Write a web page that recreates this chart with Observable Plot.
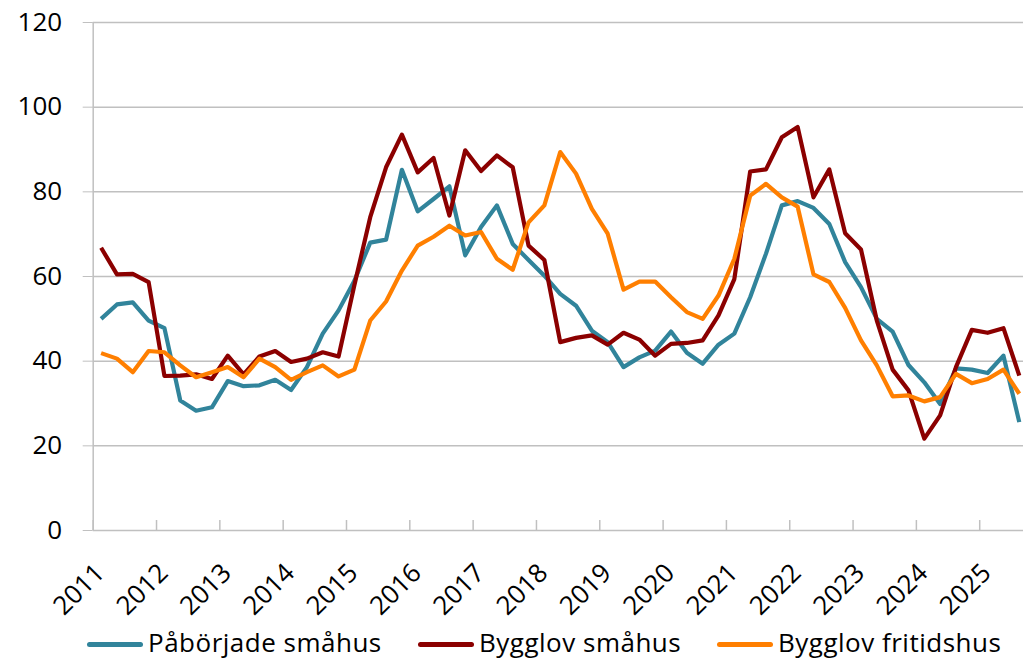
<!DOCTYPE html>
<html><head><meta charset="utf-8">
<script src="https://cdn.jsdelivr.net/npm/d3@7"></script>
<script src="https://cdn.jsdelivr.net/npm/@observablehq/plot@0.6"></script>
<style>
body{margin:0;background:#fff;font-family:"Open Sans",Lato,sans-serif;color:#000;}
#wrap{position:relative;width:1023px;height:660px;}
#legend{position:absolute;left:0;top:624px;width:1023px;}
.item{position:absolute;top:0;font-size:26px;line-height:normal;white-space:nowrap;letter-spacing:0.5px;}
.sw{position:absolute;left:0;top:18px;width:56px;height:5px;border-radius:2.5px;}
.lbl{display:block;padding-left:61px;}
</style></head><body>
<div id="wrap"><div id="chart"></div><div id="legend"></div></div>
<script>
const years = [2011,2012,2013,2014,2015,2016,2017,2018,2019,2020,2021,2022,2023,2024,2025];
const seriesNames = ["Påbörjade småhus","Bygglov småhus","Bygglov fritidshus"];
const seriesColors = ["#31849b","#8b0000","#ff7f00"];
const paborjadeSmahus = [50.0,53.4,53.9,49.6,47.8,30.7,28.3,29.1,35.3,34.1,34.3,35.6,33.2,38.6,46.5,52.0,59.0,68.0,68.7,85.2,75.4,78.3,81.3,65.0,71.7,76.8,67.7,63.9,60.2,55.9,53.1,47.2,44.5,38.6,40.9,42.5,47.0,42.0,39.4,43.9,46.5,55.1,65.4,76.8,77.8,76.2,72.4,63.4,57.5,50.0,47.0,39.1,35.0,29.9,38.3,38.0,37.2,41.3,25.6];
const bygglovSmahus = [66.8,60.5,60.6,58.7,36.5,36.6,36.9,35.8,41.3,36.9,41.1,42.4,39.8,40.6,42.1,41.1,58.0,74.0,85.8,93.5,84.6,88.0,74.4,89.8,84.9,88.6,85.8,67.3,63.9,44.5,45.5,46.1,43.9,46.7,45.1,41.3,44.1,44.3,44.9,50.8,59.4,84.8,85.3,92.9,95.3,78.7,85.3,70.2,66.4,49.6,38.0,33.1,21.7,27.2,38.6,47.4,46.7,47.8,36.6];
const bygglovFritidshus = [41.9,40.6,37.4,42.4,42.1,39.0,36.2,37.4,38.6,36.2,40.6,38.6,35.6,37.4,39.0,36.4,38.0,49.6,54.1,61.4,67.3,69.4,72.0,69.7,70.5,64.2,61.6,72.8,76.8,89.4,84.3,76.0,70.1,56.9,58.8,58.8,55.1,51.6,50.0,55.5,64.2,79.1,81.9,78.7,76.5,60.5,58.7,52.6,44.9,39.0,31.7,31.9,30.5,31.5,37.0,34.8,35.8,38.0,32.3];
const yTicks = [0,20,40,60,80,100,120];

const allSeries = [paborjadeSmahus, bygglovSmahus, bygglovFritidshus];
const data = [];
allSeries.forEach((vals, s) => vals.forEach((v, i) => data.push({series: seriesNames[s], t: years[0] + (i + 0.5) / 4, value: v})));

const chart = Plot.plot({
  width: 1023, height: 622,
  marginLeft: 92.7, marginRight: 0, marginTop: 22, marginBottom: 92,
  x: {domain: [2011, 2025.75], range: [92.7, 1026.7], axis: null},
  y: {domain: [0, 120], range: [530, 22], axis: null},
  color: {domain: seriesNames, range: seriesColors},
  style: {fontFamily: "'Open Sans', Lato, sans-serif", fontSize: "26px", color: "#000", background: "#fff"},
  marks: [
    Plot.ruleY(yTicks, {y: d => d, x1: 2011, x2: 2025.75, stroke: "#c0c0c0", strokeWidth: 1.5, strokeOpacity: 1}),
    Plot.axisY({ticks: yTicks, label: null, tickSize: 10, tickPadding: 21, stroke: "#c0c0c0", strokeOpacity: 1, fontSize: 26, fill: "#000", tickFormat: d => String(d)}),
    Plot.ruleX([2011], {stroke: "#c0c0c0", strokeWidth: 1.5, strokeOpacity: 1}),
    Plot.ruleX(years, {x: d => d, y1: 0, y2: 2.36, stroke: "#c0c0c0", strokeWidth: 1.5, strokeOpacity: 1}),
    Plot.text(years, {x: d => d, y: 0, text: d => String(d), rotate: -45, textAnchor: "end", lineAnchor: "middle", dx: 7, dy: 38, fontSize: 26, fill: "#000"}),
    Plot.line(data, {x: "t", y: "value", z: "series", stroke: "series", strokeWidth: 4.2, strokeLinejoin: "round", strokeLinecap: "butt"})
  ]
});
document.getElementById("chart").appendChild(chart);

const legendX = [87, 418, 717];
const legend = document.getElementById("legend");
seriesNames.forEach((name, i) => {
  const it = document.createElement("div");
  it.className = "item";
  it.style.left = legendX[i] + "px";
  it.innerHTML = `<span class="sw" style="background:${seriesColors[i]}"></span><span class="lbl">${name}</span>`;
  legend.appendChild(it);
});
</script>
</body></html>
